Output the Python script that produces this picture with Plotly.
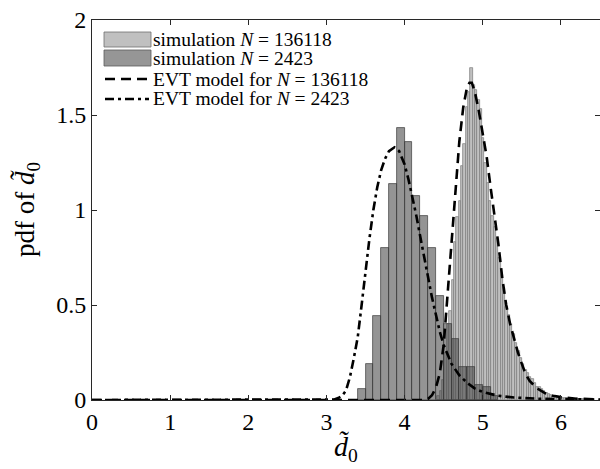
import numpy as np
import plotly.graph_objects as go

# ---------------- data ----------------
# light histogram: simulation N = 136118 (bin width 0.03, first edge 4.42)
light_start = 4.42
light_width = 0.03
light_vals = [0.02, 0.05, 0.105, 0.245, 0.40, 0.47, 0.63, 0.83, 0.965, 1.05,
              1.23, 1.35, 1.544, 1.62, 1.745, 1.658, 1.63, 1.58, 1.53, 1.38,
              1.25, 1.14, 1.05, 0.97, 0.91, 0.85, 0.75, 0.66, 0.59, 0.49,
              0.45, 0.40, 0.35, 0.30, 0.26, 0.22, 0.19, 0.16, 0.14, 0.12,
              0.11, 0.088, 0.07, 0.068, 0.06, 0.049, 0.037, 0.031, 0.026, 0.022,
              0.019, 0.017, 0.015, 0.013, 0.011, 0.009, 0.008, 0.007, 0.006, 0.005,
              0.004, 0.003, 0.003]

# dark histogram: simulation N = 2423 (bin width 0.1, first edge 3.4)
dark_start = 3.4
dark_width = 0.1
dark_vals = [0.056, 0.19, 0.44, 0.80, 1.137, 1.43, 1.356, 1.074, 0.968, 0.80,
             0.547, 0.40, 0.32, 0.175, 0.175, 0.079, 0.07, 0.022]

# EVT model for N = 136118 (dashed)
evt1_x = [0.0, 4.25, 4.30, 4.35, 4.40, 4.45, 4.50, 4.55, 4.60, 4.65, 4.70, 4.75,
          4.80, 4.83, 4.86, 4.90, 4.95, 5.00, 5.05, 5.10, 5.15, 5.20, 5.25, 5.30,
          5.35, 5.40, 5.45, 5.50, 5.55, 5.60, 5.70, 5.80, 5.90, 6.00, 6.20, 6.50]
evt1_y = [0.0, 0.0, 0.006, 0.025, 0.065, 0.14, 0.29, 0.55, 0.84, 1.12, 1.36, 1.54,
          1.65, 1.67, 1.67, 1.62, 1.52, 1.40, 1.28, 1.12, 0.97, 0.82, 0.64, 0.50,
          0.40, 0.32, 0.25, 0.19, 0.135, 0.10, 0.06, 0.035, 0.022, 0.015, 0.007, 0.003]

# EVT model for N = 2423 (dash-dot)
evt2_x = [0.0, 3.0, 3.10, 3.15, 3.20, 3.25, 3.30, 3.35, 3.40, 3.45, 3.50, 3.55,
          3.60, 3.65, 3.70, 3.75, 3.80, 3.87, 3.93, 4.00, 4.05, 4.10, 4.15, 4.20,
          4.25, 4.30, 4.35, 4.40, 4.45, 4.50, 4.55, 4.60, 4.70, 4.80, 4.90, 5.00,
          5.20, 5.40, 5.70, 6.00, 6.50]
evt2_y = [0.0, 0.0, 0.003, 0.01, 0.022, 0.05, 0.12, 0.22, 0.33, 0.50, 0.68, 0.85,
          1.00, 1.12, 1.21, 1.27, 1.31, 1.33, 1.31, 1.24, 1.16, 1.07, 0.97, 0.86,
          0.75, 0.64, 0.54, 0.45, 0.36, 0.29, 0.235, 0.19, 0.13, 0.09, 0.06, 0.042,
          0.022, 0.013, 0.007, 0.004, 0.002]

x_ticks = [0, 1, 2, 3, 4, 5, 6]
y_ticks = [0, 0.5, 1, 1.5, 2]
y_tick_text = ["0", "0.5", "1", "1.5", "2"]

legend_labels = ["simulation <i>N</i> = 136118",
                 "simulation <i>N</i> = 2423",
                 "EVT model for <i>N</i> = 136118",
                 "EVT model for <i>N</i> = 2423"]

# ---------------- figure ----------------
W, H = 600, 469
ML, MR, MT, MB = 92, 0, 20, 69
FONT = "Liberation Serif"

light_col = "rgb(192,192,192)"
dark_col = "rgba(70,70,70,0.58)"

light_x = light_start + light_width * (np.arange(len(light_vals)) + 0.5)
dark_x = dark_start + dark_width * (np.arange(len(dark_vals)) + 0.5)

fig = go.Figure()
fig.add_trace(go.Bar(x=light_x, y=light_vals, width=light_width,
                     marker=dict(color=light_col,
                                 line=dict(color="rgb(120,120,120)", width=0.7)),
                     showlegend=False))
fig.add_trace(go.Bar(x=dark_x, y=dark_vals, width=dark_width,
                     marker=dict(color=dark_col,
                                 line=dict(color="rgba(55,55,55,0.85)", width=0.8)),
                     showlegend=False))
fig.add_trace(go.Scatter(x=evt1_x, y=evt1_y, mode="lines",
                         line=dict(color="black", width=2.6, dash="10px,6px"),
                         showlegend=False))
fig.add_trace(go.Scatter(x=evt2_x, y=evt2_y, mode="lines",
                         line=dict(color="black", width=2.6, dash="9px,4px,3px,4px"),
                         showlegend=False))

pw = W - ML - MR
ph = H - MT - MB


def px(x):
    return (x - ML) / pw


def py(y):
    return (H - MB - y) / ph


shapes = []
annots = []
# legend swatches
shapes.append(dict(type="rect", xref="paper", yref="paper",
                   x0=px(104), x1=px(151), y0=py(47), y1=py(32),
                   fillcolor=light_col, line=dict(color="rgb(110,110,110)", width=0.8)))
shapes.append(dict(type="rect", xref="paper", yref="paper",
                   x0=px(104), x1=px(151), y0=py(66), y1=py(50),
                   fillcolor="rgb(150,150,150)", line=dict(color="rgb(90,90,90)", width=0.8)))
shapes.append(dict(type="line", xref="paper", yref="paper",
                   x0=px(105), x1=px(149), y0=py(79), y1=py(79),
                   line=dict(color="black", width=2.6, dash="10px,6px")))
shapes.append(dict(type="line", xref="paper", yref="paper",
                   x0=px(105), x1=px(149), y0=py(99), y1=py(99),
                   line=dict(color="black", width=2.6, dash="9px,4px,3px,4px")))
for lbl, yy in zip(legend_labels, [39.5, 58.5, 79, 99]):
    annots.append(dict(xref="paper", yref="paper", x=px(152), y=py(yy),
                       text=lbl, showarrow=False, xanchor="left", yanchor="middle",
                       borderpad=0,
                       font=dict(family=FONT, size=19.5, color="black")))
# axis titles
annots.append(dict(xref="paper", yref="paper", x=px(346), y=py(448),
                   text="<i>d̃</i><sub>0</sub>", showarrow=False,
                   xanchor="center", yanchor="middle", borderpad=0,
                   font=dict(family=FONT, size=28, color="black")))
annots.append(dict(xref="paper", yref="paper", x=px(27), y=py(210),
                   text="pdf of <i>d̃</i><sub>0</sub>", showarrow=False, textangle=-90,
                   xanchor="center", yanchor="middle", borderpad=0,
                   font=dict(family=FONT, size=27, color="black")))

fig.update_layout(
    width=W, height=H,
    margin=dict(l=ML, r=MR, t=MT, b=MB, autoexpand=False),
    paper_bgcolor="white", plot_bgcolor="white",
    barmode="overlay", bargap=0,
    shapes=shapes, annotations=annots,
    font=dict(family=FONT, size=24, color="black"),
    xaxis=dict(range=[0, 6.5], tickvals=x_ticks, ticks="inside", ticklen=5,
               tickcolor="rgb(40,40,40)", showline=True, linecolor="rgb(40,40,40)",
               linewidth=1, mirror="ticks", showgrid=False, zeroline=False,
               automargin=False, tickfont=dict(family=FONT, size=24)),
    yaxis=dict(range=[0, 2], tickvals=y_ticks, ticktext=y_tick_text, ticks="inside",
               ticklen=5, tickcolor="rgb(40,40,40)", showline=True,
               linecolor="rgb(40,40,40)", linewidth=1, mirror="ticks",
               showgrid=False, zeroline=False, automargin=False,
               tickfont=dict(family=FONT, size=24)),
)

fig.write_html("out.html", config={"displayModeBar": False},
               post_script="document.body.style.margin='0';document.body.style.overflow='hidden';")
